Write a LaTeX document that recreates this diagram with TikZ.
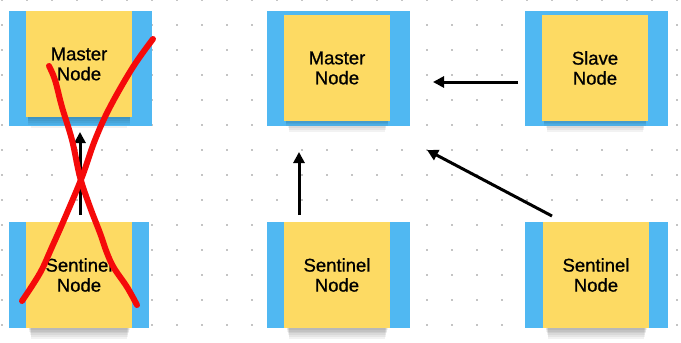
\documentclass[tikz,border=0pt]{standalone}
\usepackage{fontspec}
\setmainfont[FakeBold=0.9]{Liberation Sans}
\usetikzlibrary{arrows.meta}
\definecolor{stickyblue}{HTML}{50B8F2}
\definecolor{stickyyellow}{HTML}{FDDA63}
\definecolor{dotgray}{HTML}{C4C4C4}
\definecolor{xred}{HTML}{F50A0A}
\tikzset{
  bluebox/.style={fill=stickyblue, draw=none},
  yellowbox/.style={fill=stickyyellow, draw=none, align=center, inner sep=0pt,
    minimum width=106pt, minimum height=106pt,
    font=\fontsize{18.5}{20}\selectfont},
  arrowline/.style={line width=3pt, -{Triangle[length=11pt,width=11pt]}},
  crossline/.style={xred, line width=6pt, line cap=round, line join=round},
  shade1/.style={fill=black, opacity=0.05, draw=none},
}
\begin{document}
\begin{tikzpicture}[x=1pt,y=-1pt]
\useasboundingbox (0,0) rectangle (681,343);
\fill[white] (0,0) rectangle (681,343);
% dot grid
\foreach \i in {0,...,27}{
  \foreach \j in {0,...,13}{
    \fill[dotgray] ({2+25*\i-0.8},{25*\j-0.8}) rectangle ++(1.6,1.6);
  }
}
% shadows (soft, layered)
\foreach \bx/\by/\bw in {26/117/106, 284/121/106, 542/121/106, 26/328/106, 284/328/106, 543/328/106}{
  \foreach \k in {1,...,6}{
    \fill[shade1] ({\bx+2+\k*0.5},\by) rectangle ({\bx+\bw-2-\k*0.5},{\by+\k*1.8});
  }
}
% top-left
\fill[bluebox] (9,11) rectangle (152,126);
\foreach \k in {1,...,4}{\fill[shade1] (28,117) rectangle (130,{117+\k*2});}
\node[yellowbox] (m1) at (79,64) {Master\\Node};
% bottom-left
\fill[bluebox] (9,222) rectangle (149,328);
\node[yellowbox] (s1) at (79,275) {Sentinel\\Node};
% top-middle
\fill[bluebox] (267,11) rectangle (410,126);
\foreach \k in {1,...,3}{\fill[shade1] (286,121) rectangle (388,{121+\k*1.6});}
\node[yellowbox] (m2) at (337,68) {Master\\Node};
% bottom-middle
\fill[bluebox] (267,222) rectangle (410,328);
\node[yellowbox] (s2) at (337,275) {Sentinel\\Node};
% top-right
\fill[bluebox] (525,11) rectangle (668,126);
\foreach \k in {1,...,3}{\fill[shade1] (544,121) rectangle (646,{121+\k*1.6});}
\node[yellowbox] (sl) at (595,68) {Slave\\Node};
% bottom-right
\fill[bluebox] (525,222) rectangle (668,328);
\node[yellowbox] (s3) at (596,275) {Sentinel\\Node};
% arrow endpoints
\coordinate (a1s) at (80,215);
\coordinate (a1e) at (80,132);
\coordinate (a2s) at (299,215);
\coordinate (a2e) at (299,152);
\coordinate (a3s) at (518,82);
\coordinate (a3e) at (433,82);
\coordinate (a4s) at (552,216);
\coordinate (a4e) at (427,150);
\draw[arrowline] (a1s) -- (a1e);
\draw[arrowline] (a2s) -- (a2e);
\draw[arrowline] (a3s) -- (a3e);
\draw[arrowline] (a4s) -- (a4e);
% red cross
\draw[crossline] plot[smooth, tension=0.6] coordinates {(49,66) (55,80) (62,107) (72,140) (80,177) (90,207) (100,233) (107,253) (114,268) (127,287) (137,305)};
\draw[crossline] plot[smooth, tension=0.6] coordinates {(153,39) (133,67) (110,107) (95,140) (82,177) (67,213) (52,247) (40,273) (22,301)};
\end{tikzpicture}
\end{document}
